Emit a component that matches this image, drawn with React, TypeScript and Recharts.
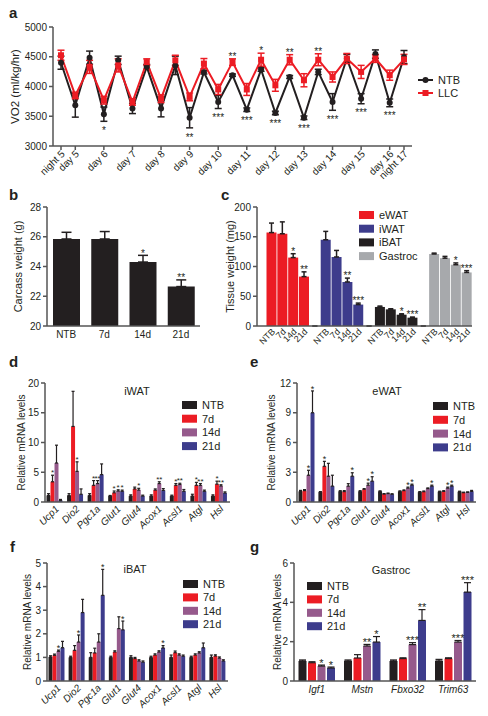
import React from 'react';
import { LineChart, Line, BarChart, Bar, XAxis, YAxis, ErrorBar, LabelList, Cell } from 'recharts';

const FONT = '"Liberation Sans", Arial, Helvetica, sans-serif';
const INK = '#231f20';
const AXIS = '#555555';
const RED = '#ec1c24';
const MAUVE = '#965a8c';
const BLUE = '#3d3c8c';
const GREY = '#a7a9ac';

// ---- a: VO2 time course
const vo2Labels = ['night 5', 'day 5', 'night 6', 'day 6', 'night 7', 'day 7', 'night 8', 'day 8', 'night 9', 'day 9',
  'night 10', 'day 10', 'night 11', 'day 11', 'night 12', 'day 12', 'night 13', 'day 13', 'night 14', 'day 14',
  'night 15', 'day 15', 'night 16', 'day 16', 'night 17'];
const vo2TickIdx = [0, 1, 3, 5, 7, 9, 11, 13, 15, 17, 19, 21, 23, 24];
const ntbVO2 = [4400, 3685, 4485, 3535, 4440, 3630, 4330, 3630, 4355, 3475, 4240, 3740, 4190, 3610, 4285, 3555, 4160, 3475, 4245, 3740, 4470, 3795, 4545, 3725, 4495];
const ntbVO2Err = [110, 200, 110, 120, 70, 85, 40, 140, 155, 170, 30, 110, 20, 30, 30, 30, 25, 30, 45, 140, 70, 85, 70, 65, 110];
const llcVO2 = [4525, 3850, 4330, 3770, 4355, 3740, 4410, 3795, 4440, 3825, 4385, 3950, 4410, 3950, 4450, 4020, 4450, 4105, 4450, 4160, 4470, 4245, 4470, 4190, 4455];
const llcVO2Err = [85, 55, 110, 65, 110, 55, 55, 65, 85, 65, 85, 85, 55, 100, 110, 100, 85, 110, 100, 85, 85, 110, 65, 85, 85];
const ntbVO2Stars = ['', '', '', '*', '', '', '', '', '', '**', '', '***', '', '***', '', '***', '', '***', '', '***', '', '***', '', '***', ''];
const llcVO2Stars = ['', '', '', '', '', '', '', '', '', '', '', '', '**', '', '*', '', '**', '', '**', '', '', '', '', '', ''];

// ---- b: carcass weight
const timeGroups = ['NTB', '7d', '14d', '21d'];
const carcassWeight = [25.85, 25.85, 24.3, 22.65];
const carcassErr = [0.45, 0.5, 0.45, 0.45];
const carcassStars = ['', '', '*', '**'];

// ---- c: tissue weights
const tissueNames = ['eWAT', 'iWAT', 'iBAT', 'Gastroc'];
const tissueColors = [RED, BLUE, INK, GREY];
const eWATmg = [157, 155, 115, 83];
const eWATErr = [16, 20, 6.5, 8];
const eWATStars = ['', '', '*', '**'];
const iWATmg = [145, 116, 74, 36];
const iWATErr = [14, 11, 6.5, 2.5];
const iWATStars = ['', '', '**', '***'];
const iBATmg = [32, 28, 19, 14];
const iBATErr = [1.5, 1, 1.5, 1];
const iBATStars = ['', '', '*', '***'];
const gastrocMg = [121, 114, 103, 90];
const gastrocErr = [1.5, 3, 3, 3];
const gastrocStars = ['', '', '*', '***'];

// ---- d-g: relative mRNA
const groupColors = [INK, RED, MAUVE, BLUE];
const fatGenes = ['Ucp1', 'Dio2', 'Pgc1a', 'Glut1', 'Glut4', 'Acox1', 'Acsl1', 'Atgl', 'Hsl'];
const noStars9 = ['', '', '', '', '', '', '', '', ''];

const iwatNTB = [1.1, 1.1, 1.1, 1.0, 1.0, 1.0, 1.0, 1.0, 1.0];
const iwatNTBErr = [0.3, 0.3, 0.3, 0.1, 0.2, 0.2, 0.15, 0.3, 0.2];
const iwat7d = [3.4, 12.7, 2.8, 1.55, 2.2, 2.0, 2.8, 2.8, 3.0];
const iwat7dErr = [1.1, 5.9, 0.8, 0.3, 0.3, 0.2, 0.3, 0.5, 0.5];
const iwat14d = [6.55, 5.15, 3.1, 1.85, 2.0, 3.1, 2.95, 2.8, 2.7];
const iwat14dErr = [3.0, 1.6, 0.5, 0.2, 0.3, 0.3, 0.2, 0.3, 0.2];
const iwat21d = [0.28, 1.3, 4.6, 1.8, 1.0, 1.95, 1.8, 1.8, 1.5];
const iwat21dErr = [0.15, 0.9, 1.8, 0.2, 0.15, 0.3, 0.3, 0.2, 0.2];
const iwat7dStars = ['*', '', '*', '*', '', '', '*', '*', '*'];
const iwat14dStars = ['', '*', '**', '*', '*', '**', '**', '**', '**'];
const iwat21dStars = ['', '', '', '*', '', '', '', '', ''];

const ewatNTB = [1.07, 1.0, 1.07, 1.07, 1.07, 1.07, 1.0, 1.04, 1.04];
const ewatNTBErr = [0.1, 0.05, 0.07, 0.07, 0.05, 0.05, 0.05, 0.05, 0.05];
const ewat7d = [1.15, 3.6, 1.05, 1.28, 0.8, 1.15, 1.04, 1.07, 0.94];
const ewat7dErr = [0.1, 0.5, 0.1, 0.07, 0.05, 0.07, 0.07, 0.07, 0.05];
const ewat14d = [2.7, 2.6, 1.6, 1.7, 0.85, 1.4, 1.35, 1.4, 0.97];
const ewat14dErr = [0.5, 1.3, 0.25, 0.2, 0.05, 0.1, 0.07, 0.1, 0.05];
const ewat21d = [9.0, 1.6, 2.6, 2.1, 0.78, 1.7, 1.6, 1.6, 1.07];
const ewat21dErr = [2.2, 1.1, 0.35, 0.45, 0.05, 0.1, 0.1, 0.1, 0.1];
const ewat7dStars = ['', '*', '', '', '', '', '', '', ''];
const ewat14dStars = ['*', '', '', '*', '', '*', '', '*', ''];
const ewat21dStars = ['*', '', '*', '*', '', '*', '*', '*', ''];

const ibatNTB = [1.02, 1.0, 1.0, 1.0, 1.0, 1.0, 1.0, 1.0, 1.0];
const ibatNTBErr = [0.05, 0.05, 0.2, 0.05, 0.07, 0.05, 0.1, 0.05, 0.1];
const ibat7d = [1.09, 1.3, 1.19, 1.23, 0.95, 1.1, 1.2, 1.1, 1.06];
const ibat7dErr = [0.05, 0.2, 0.2, 0.05, 0.05, 0.05, 0.07, 0.05, 0.05];
const ibat14d = [1.26, 1.65, 1.65, 2.22, 0.85, 1.23, 1.1, 1.19, 0.97];
const ibat14dErr = [0.05, 0.3, 0.35, 0.5, 0.05, 0.05, 0.05, 0.05, 0.05];
const ibat21d = [1.41, 2.9, 3.63, 2.17, 0.8, 1.4, 1.05, 1.41, 0.85];
const ibat21dErr = [0.27, 0.56, 1.1, 0.37, 0.05, 0.1, 0.05, 0.2, 0.05];
const ibat14dStars = ['*', '*', '', '', '', '', '', '', ''];
const ibat21dStars = ['', '', '*', '*', '', '*', '', '', ''];

const muscleGenes = ['Igf1', 'Mstn', 'Fbxo32', 'Trim63'];
const noStars4 = ['', '', '', ''];
const gasNTB = [1.02, 1.02, 1.02, 1.02];
const gasNTBErr = [0.05, 0.05, 0.05, 0.08];
const gas7d = [0.93, 1.17, 1.14, 1.14];
const gas7dErr = [0.05, 0.17, 0.04, 0.04];
const gas14d = [0.76, 1.78, 1.85, 1.98];
const gas14dErr = [0.05, 0.08, 0.1, 0.08];
const gas21d = [0.66, 1.98, 3.08, 4.52];
const gas21dErr = [0.05, 0.28, 0.55, 0.48];
const gas14dStars = ['*', '**', '***', '***'];
const gas21dStars = ['*', '*', '**', '***'];

const axisLine = { stroke: AXIS, strokeWidth: 1.5 };
const tickLine = { stroke: AXIS, strokeWidth: 1.5 };

function vbOf(p: any) {
  const vb = p.viewBox || {};
  return { x: Number(vb.x ?? p.x), y: Number(vb.y ?? p.y), w: Number(vb.width ?? p.width ?? 0) };
}

// star label above an error bar (bars) or beside a line point
function starAbove(errs: number[], stars: string[], ppu: number, size: number) {
  return (p: any) => {
    const s = stars[p.index];
    if (!s) return null;
    const { x, y, w } = vbOf(p);
    const cap = y - errs[p.index] * ppu;
    return <text x={x + w / 2} y={cap - 4.5 + size * 0.57} textAnchor="middle" fontSize={size} fill={INK}>{s}</text>;
  };
}
function starBelow(errs: number[], stars: string[], ppu: number, size: number) {
  return (p: any) => {
    const s = stars[p.index];
    if (!s) return null;
    const { x, y } = vbOf(p);
    const cap = y + errs[p.index] * ppu;
    return <text x={x} y={cap + 7 + size * 0.57} textAnchor="middle" fontSize={size} fill={INK}>{s}</text>;
  };
}

function SlantTick(props: any) {
  const { x, y, payload, labelOf, size = 10, italic = false } = props;
  const text = labelOf ? labelOf(payload.value) : payload.value;
  if (!text) return null;
  return (
    <text x={x + 2} y={y} dy={size * 0.35} textAnchor="end" transform={`rotate(-45 ${x + 2} ${y})`}
      fontSize={size} fill={INK} fontStyle={italic ? 'italic' : 'normal'}>{text}</text>
  );
}

function yLabel(value: string, offset: number, size: number) {
  return { value, angle: -90, position: 'insideLeft', offset, style: { textAnchor: 'middle', fontSize: size, fill: INK } } as any;
}

function PanelA() {
  const plotH = 119;
  const ppu = plotH / 2000;
  const rows = vo2Labels.map((t, i) => ({ i, t, ntb: ntbVO2[i], ntbErr: ntbVO2Err[i], llc: llcVO2[i], llcErr: llcVO2Err[i] }));
  return (
    <LineChart width={488} height={188} data={rows} margin={{ top: 27, right: 76, bottom: 0, left: 0 }}>
      <XAxis type="number" dataKey="i" domain={[0, 24]} ticks={vo2TickIdx} interval={0} padding={{ left: 8, right: 8 }}
        axisLine={axisLine} tickLine={tickLine} tickSize={4} height={42}
        tick={<SlantTick labelOf={(v: number) => vo2Labels[v]} size={10} />} />
      <YAxis domain={[3000, 5000]} ticks={[3000, 3500, 4000, 4500, 5000]} width={53} axisLine={axisLine} tickLine={tickLine}
        tickSize={4} tick={{ fontSize: 10, fill: INK }} label={yLabel('VO2 (ml/kg/hr)', 15, 11.5)} />
      <Line dataKey="ntb" stroke={INK} strokeWidth={2} isAnimationActive={false}
        dot={{ r: 3, fill: INK, stroke: INK, strokeWidth: 0 }}>
        <ErrorBar dataKey="ntbErr" direction="y" width={3.5} stroke={INK} strokeWidth={1.5} />
        <LabelList dataKey="ntb" content={starBelow(ntbVO2Err, ntbVO2Stars, ppu, 10)} />
      </Line>
      <Line dataKey="llc" stroke={RED} strokeWidth={2} isAnimationActive={false}
        dot={(p: any) => <rect key={`llc-${p.index}`} x={p.cx - 3} y={p.cy - 3} width={6} height={6} fill={RED} />}>
        <ErrorBar dataKey="llcErr" direction="y" width={3.5} stroke={RED} strokeWidth={1.5} />
        <LabelList dataKey="llc" content={starAbove(llcVO2Err, llcVO2Stars, ppu, 10)} />
      </Line>
    </LineChart>
  );
}

function PanelB() {
  const ppu = 119 / 8;
  const rows = timeGroups.map((g, i) => ({ g, w: carcassWeight[i], e: [0, carcassErr[i]] }));
  return (
    <BarChart width={215} height={172} data={rows} margin={{ top: 29, right: 15, bottom: 0, left: 0 }}>
      <XAxis dataKey="g" interval={0} tickLine={false} axisLine={axisLine} tickSize={3} height={24} tick={{ fontSize: 10, fill: INK }} />
      <YAxis domain={[20, 28]} ticks={[20, 22, 24, 26, 28]} width={47} axisLine={axisLine} tickLine={tickLine} tickSize={4}
        tick={{ fontSize: 10, fill: INK }} label={yLabel('Carcass weight (g)', 18, 11)} />
      <Bar dataKey="w" fill={INK} barSize={27} isAnimationActive={false}>
        <ErrorBar dataKey="e" direction="y" width={5} stroke={INK} strokeWidth={1.5} />
        <LabelList dataKey="w" content={starAbove(carcassErr, carcassStars, ppu, 10)} />
      </Bar>
    </BarChart>
  );
}

function PanelC() {
  const ppu = 119 / 200;
  const sets = [
    { mean: eWATmg, err: eWATErr, stars: eWATStars },
    { mean: iWATmg, err: iWATErr, stars: iWATStars },
    { mean: iBATmg, err: iBATErr, stars: iBATStars },
    { mean: gastrocMg, err: gastrocErr, stars: gastrocStars },
  ];
  // invisible spacer rows separate the four tissues (tiny value so the bar list keeps one rect per row)
  const rows: any[] = [];
  sets.forEach((s, ti) => {
    if (ti > 0) rows.push({ key: `gap${ti}`, label: '', mg: 0.01, e: [0, 0], err: 0, star: '', color: 'transparent' });
    timeGroups.forEach((g, gi) => rows.push({
      key: `${tissueNames[ti]}-${g}`, label: g, mg: s.mean[gi], e: [0, s.err[gi]], err: s.err[gi], star: s.stars[gi], color: tissueColors[ti],
    }));
  });
  const errs = rows.map((r) => r.err);
  const stars = rows.map((r) => r.star);
  return (
    <BarChart width={270} height={180} data={rows} margin={{ top: 29, right: 16, bottom: 0, left: 0 }} barCategoryGap={0.5}>
      <XAxis dataKey="key" interval={0} tickLine={false} axisLine={axisLine} tickSize={2} height={32} padding={{ left: 9, right: 0 }}
        tick={<SlantTick labelOf={(v: string) => (rows.find((r) => r.key === v) || {}).label} size={9} />} />
      <YAxis domain={[0, 200]} ticks={[0, 50, 100, 150, 200]} width={39} axisLine={axisLine} tickLine={tickLine} tickSize={4}
        tick={{ fontSize: 10, fill: INK }} label={yLabel('Tissue weight (mg)', 12, 11)} />
      <Bar dataKey="mg" isAnimationActive={false}>
        {rows.map((r) => <Cell key={r.key} fill={r.color} />)}
        <ErrorBar dataKey="e" direction="y" width={2.5} stroke={INK} strokeWidth={1.5} />
        <LabelList dataKey="mg" content={starAbove(errs, stars, ppu, 10)} />
      </Bar>
    </BarChart>
  );
}

function MrnaPanel(props: any) {
  const { genes, series, yMax, yTicks, width, height, top, right, plotH, yWidth, yLabelOffset, catGap, barGap, cap, slant, starSize } = props;
  const ppu = plotH / yMax;
  const rows = genes.map((g: string, i: number) => {
    const r: any = { gene: g };
    series.forEach((s: any, k: number) => { r['v' + k] = s.mean[i]; r['e' + k] = [0, s.err[i]]; });
    return r;
  });
  return (
    <BarChart width={width} height={height} data={rows} margin={{ top, right, bottom: 0, left: 0 }} barCategoryGap={catGap} barGap={barGap}>
      <XAxis dataKey="gene" interval={0} tickLine={false} axisLine={axisLine} tickSize={3} height={height - top - plotH}
        tick={slant ? <SlantTick italic size={10} /> : { fontSize: 10, fill: INK, fontStyle: 'italic' }} />
      <YAxis domain={[0, yMax]} ticks={yTicks} width={yWidth} axisLine={axisLine} tickLine={tickLine} tickSize={4}
        tick={{ fontSize: 10, fill: INK }} label={yLabel('Relative mRNA levels', yLabelOffset, 10)} />
      {series.map((s: any, k: number) => (
        <Bar key={s.name} dataKey={'v' + k} fill={s.color} isAnimationActive={false}>
          <ErrorBar dataKey={'e' + k} direction="y" width={cap} stroke={INK} strokeWidth={1.2} />
          <LabelList dataKey={'v' + k} content={starAbove(s.err, s.stars, ppu, starSize)} />
        </Bar>
      ))}
    </BarChart>
  );
}

const iwatSeries = [
  { name: 'NTB', color: groupColors[0], mean: iwatNTB, err: iwatNTBErr, stars: noStars9 },
  { name: '7d', color: groupColors[1], mean: iwat7d, err: iwat7dErr, stars: iwat7dStars },
  { name: '14d', color: groupColors[2], mean: iwat14d, err: iwat14dErr, stars: iwat14dStars },
  { name: '21d', color: groupColors[3], mean: iwat21d, err: iwat21dErr, stars: iwat21dStars },
];
const ewatSeries = [
  { name: 'NTB', color: groupColors[0], mean: ewatNTB, err: ewatNTBErr, stars: noStars9 },
  { name: '7d', color: groupColors[1], mean: ewat7d, err: ewat7dErr, stars: ewat7dStars },
  { name: '14d', color: groupColors[2], mean: ewat14d, err: ewat14dErr, stars: ewat14dStars },
  { name: '21d', color: groupColors[3], mean: ewat21d, err: ewat21dErr, stars: ewat21dStars },
];
const ibatSeries = [
  { name: 'NTB', color: groupColors[0], mean: ibatNTB, err: ibatNTBErr, stars: noStars9 },
  { name: '7d', color: groupColors[1], mean: ibat7d, err: ibat7dErr, stars: noStars9 },
  { name: '14d', color: groupColors[2], mean: ibat14d, err: ibat14dErr, stars: ibat14dStars },
  { name: '21d', color: groupColors[3], mean: ibat21d, err: ibat21dErr, stars: ibat21dStars },
];
const gasSeries = [
  { name: 'NTB', color: groupColors[0], mean: gasNTB, err: gasNTBErr, stars: noStars4 },
  { name: '7d', color: groupColors[1], mean: gas7d, err: gas7dErr, stars: noStars4 },
  { name: '14d', color: groupColors[2], mean: gas14d, err: gas14dErr, stars: gas14dStars },
  { name: '21d', color: groupColors[3], mean: gas21d, err: gas21dErr, stars: gas21dStars },
];

function BoxLegend({ x, y, step, names, colors }: any) {
  return (
    <g>
      {names.map((n: string, i: number) => (
        <g key={n}>
          <rect x={x} y={y + i * step - 4} width={15} height={8} fill={colors[i]} />
          <text x={x + 20} y={y + i * step + 4} fontSize={11} fill={INK}>{n}</text>
        </g>
      ))}
    </g>
  );
}

function Overlay() {
  const letter = { fontSize: 15, fontWeight: 700, fill: INK } as any;
  const title = { fontSize: 11, fill: INK, textAnchor: 'middle' } as any;
  return (
    <svg width={488} height={716} style={{ position: 'absolute', left: 0, top: 0, pointerEvents: 'none', fontFamily: FONT }}>
      <text x={9} y={18} {...letter}>a</text>
      <text x={9} y={200} {...letter}>b</text>
      <text x={221} y={200} {...letter}>c</text>
      <text x={9} y={367} {...letter}>d</text>
      <text x={250} y={367} {...letter}>e</text>
      <text x={10} y={552} {...letter}>f</text>
      <text x={250} y={552} {...letter}>g</text>

      <g>
        <line x1={418} x2={433} y1={80} y2={80} stroke={INK} strokeWidth={2} />
        <circle cx={425.5} cy={80} r={3} fill={INK} />
        <text x={438} y={84} fontSize={11} fill={INK}>NTB</text>
        <line x1={418} x2={433} y1={93} y2={93} stroke={RED} strokeWidth={2} />
        <rect x={422.5} y={90} width={6} height={6} fill={RED} />
        <text x={438} y={97} fontSize={11} fill={INK}>LLC</text>
      </g>

      <BoxLegend x={359} y={215} step={13.7} names={tissueNames} colors={tissueColors} />

      <text x={137} y={395} {...title}>iWAT</text>
      <BoxLegend x={182} y={405} step={13.7} names={timeGroups} colors={groupColors} />
      <text x={387} y={395} {...title}>eWAT</text>
      <BoxLegend x={433} y={406} step={13.8} names={timeGroups} colors={groupColors} />
      <text x={135} y={573} {...title}>iBAT</text>
      <BoxLegend x={183} y={584} step={13.4} names={timeGroups} colors={groupColors} />
      <text x={391} y={574} {...title}>Gastroc</text>
      <BoxLegend x={307} y={586} step={13.4} names={timeGroups} colors={groupColors} />
    </svg>
  );
}

export default function App() {
  return (
    <div style={{ position: 'absolute', left: 0, top: 0, width: 488, height: 716, background: '#fff', fontFamily: FONT, overflow: 'hidden' }}>
      <div style={{ position: 'absolute', left: 0, top: 0 }}><PanelA /></div>
      <div style={{ position: 'absolute', left: 0, top: 178 }}><PanelB /></div>
      <div style={{ position: 'absolute', left: 218, top: 178 }}><PanelC /></div>
      <div style={{ position: 'absolute', left: 0, top: 360 }}>
        <MrnaPanel genes={fatGenes} series={iwatSeries} yMax={20} yTicks={[0, 5, 10, 15, 20]} width={244} height={176} top={23} right={14}
          plotH={119} yWidth={45} yLabelOffset={21} catGap={1.5} barGap={0} cap={1.5} slant starSize={8} />
      </div>
      <div style={{ position: 'absolute', left: 250, top: 360 }}>
        <MrnaPanel genes={fatGenes} series={ewatSeries} yMax={12} yTicks={[0, 3, 6, 9, 12]} width={238} height={176} top={23} right={12}
          plotH={119} yWidth={47} yLabelOffset={21} catGap={1.5} barGap={0} cap={1.5} slant starSize={9} />
      </div>
      <div style={{ position: 'absolute', left: 0, top: 540 }}>
        <MrnaPanel genes={fatGenes} series={ibatSeries} yMax={5} yTicks={[0, 1, 2, 3, 4, 5]} width={244} height={176} top={23} right={16}
          plotH={118} yWidth={47} yLabelOffset={27} catGap={1.5} barGap={0} cap={1.5} slant starSize={9} />
      </div>
      <div style={{ position: 'absolute', left: 250, top: 540 }}>
        <MrnaPanel genes={muscleGenes} series={gasSeries} yMax={6} yTicks={[0, 2, 4, 6]} width={238} height={176} top={23} right={12}
          plotH={118} yWidth={44} yLabelOffset={27} catGap={4.5} barGap={1.5} cap={3.5} slant={false} starSize={11} />
      </div>
      <Overlay />
    </div>
  );
}
